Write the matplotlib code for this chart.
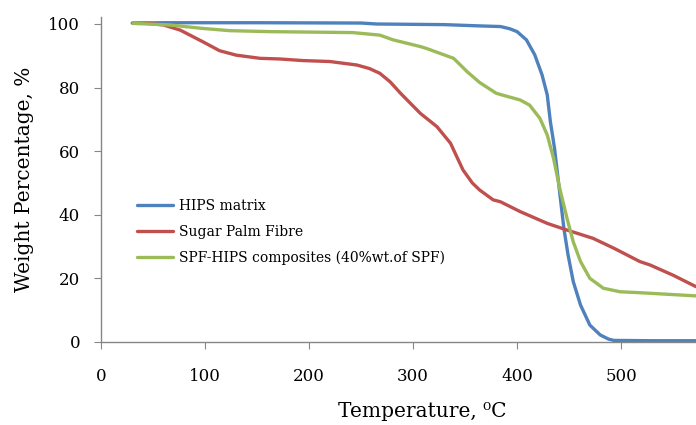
import numpy as np
import matplotlib.pyplot as plt

# TGA curves
hips_t = [30, 60, 150, 250, 265, 330, 364, 384, 393, 400, 409, 417, 424, 429, 432,
          436, 439, 442, 445, 449, 454, 461, 470, 480, 488, 493, 530, 572]
hips_w = [100.3, 100.4, 100.4, 100.3, 100.0, 99.8, 99.4, 99.2, 98.5, 97.6, 95.0,
          90.3, 84.0, 77.7, 69.3, 60.9, 52.5, 44.1, 35.7, 27.4, 19.0, 11.6, 5.3,
          2.2, 0.9, 0.5, 0.4, 0.4]

spf_t = [31, 45, 60, 76, 98, 114, 130, 153, 172, 194, 220, 246, 258, 268, 278,
         288, 307, 323, 336, 348, 357, 364, 377, 384, 403, 429, 448, 473, 493,
         518, 528, 550, 572]
spf_w = [100.2, 100.2, 99.7, 98.1, 94.4, 91.6, 90.2, 89.2, 89.0, 88.5, 88.2, 87.1,
         86.0, 84.5, 81.8, 78.2, 71.9, 67.7, 62.5, 54.1, 50.0, 47.8, 44.7, 44.1,
         41.0, 37.3, 35.2, 32.6, 29.5, 25.3, 24.2, 21.0, 17.4]

comp_t = [31, 66, 98, 124, 162, 242, 268, 281, 307, 313, 339, 352, 364, 380, 403,
          412, 422, 429, 435, 441, 448, 454, 461, 470, 483, 499, 518, 545, 572]
comp_w = [100.2, 99.7, 98.6, 97.9, 97.6, 97.3, 96.5, 95.0, 92.9, 92.3, 89.2, 85.0,
          81.6, 78.2, 76.1, 74.5, 70.3, 65.1, 57.8, 48.3, 38.9, 31.5, 25.3, 20.0,
          16.9, 15.8, 15.5, 15.0, 14.5]

labels = ["HIPS matrix", "Sugar Palm Fibre", "SPF-HIPS composites (40%wt.of SPF)"]
colors = ["#4F81BD", "#C0504D", "#9BBB59"]

plt.rcParams['font.family'] = ['DejaVu Serif']

fig = plt.figure(figsize=(6.96, 4.25), dpi=100)
ax = fig.add_axes([101 / 696, 83 / 425, 1 - 101 / 696, (342 - 17) / 425])

for t, w, c, lab in zip([hips_t, spf_t, comp_t], [hips_w, spf_w, comp_w], colors, labels):
    ax.plot(t, w, color=c, linewidth=2.4, label=lab,
            solid_capstyle='round', solid_joinstyle='round')

ax.set_xlim(0, 572)
ax.set_ylim(0, 102.2)
ax.set_xticks([0, 100, 200, 300, 400, 500])
ax.set_yticks([0, 20, 40, 60, 80, 100])

for s in ['top', 'right']:
    ax.spines[s].set_visible(False)
for s in ['left', 'bottom']:
    ax.spines[s].set_color('#868686')
    ax.spines[s].set_linewidth(1.0)
ax.tick_params(axis='both', direction='out', length=5, color='#868686', labelsize=12)
ax.tick_params(axis='x', pad=14)
ax.tick_params(axis='y', pad=10)

ax.set_xlabel("Temperature, \u2070C", fontsize=14.5, labelpad=6)
ax.xaxis.set_label_coords(0.54, -0.185)
ax.set_ylabel("Weight Percentage, %", fontsize=14.5, labelpad=10)

ax.legend(loc='upper left', bbox_to_anchor=(0.040, 0.478), frameon=False,
          fontsize=10, handlelength=2.6, handletextpad=0.4, labelspacing=0.85)

fig.savefig("out.png", dpi=100)
